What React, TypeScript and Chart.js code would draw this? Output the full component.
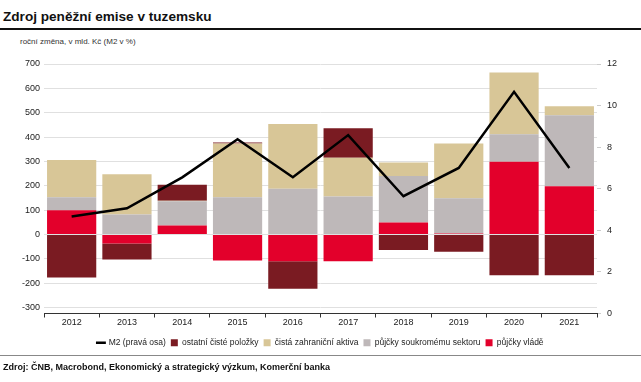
import React, { useEffect, useRef } from "react";
import { Chart, registerables } from "chart.js";

Chart.register(...registerables);

const years = ["2012", "2013", "2014", "2015", "2016", "2017", "2018", "2019", "2020", "2021"];
const pujckyVlade = [100, -37, 37, -106, -110, -110, 49, 4, 299, 198];
const pujckySoukromemu = [53, 82, 100, 153, 188, 156, 191, 145, 113, 292];
const zahranicniAktiva = [153, 165, 2, 221, 266, 159, 56, 225, 253, 37];
const ostatniPolozky = [-176, -65, 65, 4, -112, 121, -63, -71, -167, -167];
const m2 = [4.66, 5.06, 6.55, 8.38, 6.55, 8.58, 5.64, 7.0, 10.66, 7.0];
const leftTicks = [-300, -200, -100, 0, 100, 200, 300, 400, 500, 600, 700];
const rightTicks = [0, 2, 4, 6, 8, 10, 12];

const FONT = "'Liberation Sans', Arial, sans-serif";

export default function App() {
  const ref = useRef<HTMLCanvasElement | null>(null);

  useEffect(() => {
    document.body.style.margin = "0";
    const canvas = ref.current;
    if (!canvas) return;
    const chart = new Chart(canvas, {
      type: "bar",
      data: {
        labels: years,
        datasets: [
          { type: "bar", label: "půjčky vládě", data: pujckyVlade, backgroundColor: "#E3002B", yAxisID: "y", stack: "s", pointStyle: "rect", borderWidth: 0 } as any,
          { type: "bar", label: "půjčky soukromému sektoru", data: pujckySoukromemu, backgroundColor: "#BEB8B9", yAxisID: "y", stack: "s", pointStyle: "rect", borderWidth: 0 } as any,
          { type: "bar", label: "čistá zahraniční aktiva", data: zahranicniAktiva, backgroundColor: "#D8C697", yAxisID: "y", stack: "s", pointStyle: "rect", borderWidth: 0 } as any,
          { type: "bar", label: "ostatní čisté položky", data: ostatniPolozky, backgroundColor: "#7A1B22", yAxisID: "y", stack: "s", pointStyle: "rect", borderWidth: 0 } as any,
          {
            type: "line",
            label: "M2 (pravá osa)",
            data: m2,
            borderColor: "#000",
            backgroundColor: "#000",
            borderWidth: 2.5,
            pointRadius: 0,
            pointStyle: "line",
            tension: 0,
            yAxisID: "y1",
            order: -1,
          } as any,
        ],
      },
      options: {
        animation: false,
        responsive: false,
        maintainAspectRatio: false,
        layout: { padding: { top: 64, left: 0, right: 0, bottom: 1 } },
        datasets: { bar: { categoryPercentage: 1, barPercentage: 0.89 } },
        plugins: {
          title: { display: false },
          tooltip: { enabled: false },
          legend: {
            display: true,
            position: "bottom",
            labels: {
              usePointStyle: true,
              boxHeight: 7,
              boxWidth: 7,
              padding: 5,
              color: "#222",
              font: { family: FONT, size: 8.5 },
              sort: (a: any, b: any) => b.datasetIndex - a.datasetIndex,
            },
          },
        },
        scales: {
          x: {
            stacked: true,
            grid: { display: true, drawOnChartArea: false, drawTicks: true, tickLength: 4, color: "#333", offset: true },
            border: { display: true, color: "#333", width: 1 },
            ticks: { color: "#222", font: { family: FONT, size: 9 }, padding: 0, maxRotation: 0 },
            afterFit: (s: any) => { s.height = 20; },
          },
          y: {
            stacked: true,
            position: "left",
            min: -324,
            max: 700,
            afterBuildTicks: (s: any) => { s.ticks = leftTicks.map((v) => ({ value: v })); },
            grid: { color: "#E0E0E0", drawTicks: false, lineWidth: 1 },
            border: { display: false },
            ticks: { color: "#222", font: { family: FONT, size: 9 }, padding: 4 },
            afterFit: (s: any) => { s.width = 44; },
          },
          y1: {
            position: "right",
            min: 0,
            max: 12,
            afterBuildTicks: (s: any) => { s.ticks = rightTicks.map((v) => ({ value: v })); },
            grid: { drawOnChartArea: false, drawTicks: true, tickLength: 4, color: "#CCCCCC" },
            border: { display: false },
            ticks: { color: "#222", font: { family: FONT, size: 9 }, padding: 6 },
            afterFit: (s: any) => { s.width = 44; },
          },
        },
      },
    });
    return () => chart.destroy();
  }, []);

  return (
    <div style={{ position: "relative", width: 641, height: 382, background: "#fff", fontFamily: FONT, overflow: "hidden" }}>
      <div style={{ position: "absolute", left: 3, top: 8, fontSize: 13.6, fontWeight: "bold", color: "#111", whiteSpace: "nowrap", lineHeight: "18px" }}>
        Zdroj peněžní emise v tuzemsku
      </div>
      <div style={{ position: "absolute", left: 0, top: 28, width: 641, height: 2, background: "#111" }} />
      <div style={{ position: "absolute", left: 20, top: 37, fontSize: 8, color: "#333", whiteSpace: "nowrap", lineHeight: "10px" }}>
        roční změna, v mld. Kč (M2 v %)
      </div>
      <canvas ref={ref} width={641} height={358} style={{ position: "absolute", left: 0, top: 0, width: 641, height: 358 }} />
      <div style={{ position: "absolute", left: 0, top: 355, width: 641, height: 1, background: "#888" }} />
      <div style={{ position: "absolute", left: 3, top: 361, fontSize: 9, fontWeight: "bold", color: "#111", whiteSpace: "nowrap", lineHeight: "12px" }}>
        Zdroj: ČNB, Macrobond, Ekonomický a strategický výzkum, Komerční banka
      </div>
    </div>
  );
}
